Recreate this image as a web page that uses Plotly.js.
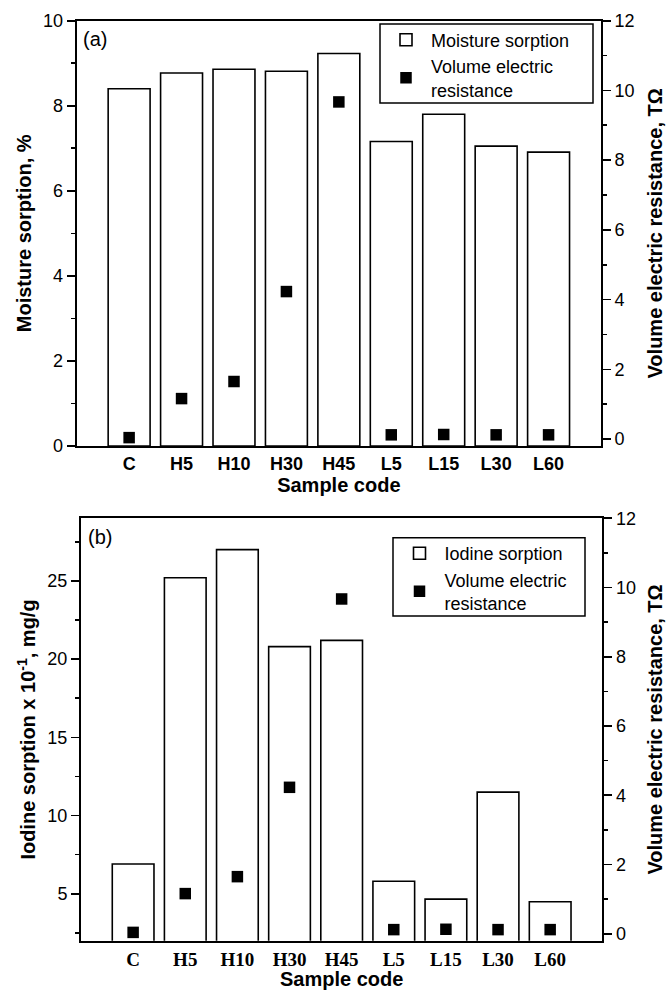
<!DOCTYPE html>
<html>
<head>
<meta charset="utf-8">
<script src="https://cdn.plot.ly/plotly-3.0.1.min.js"></script>
<style>html,body{margin:0;padding:0;background:#fff;}#chart{width:666px;height:990px;}</style>
</head>
<body>
<div id="chart"></div>
<script>
const categories = ['C','H5','H10','H30','H45','L5','L15','L30','L60'];
const moistureSorption = [8.40, 8.77, 8.86, 8.81, 9.23, 7.16, 7.80, 7.05, 6.91];
const iodineSorption = [6.9, 25.2, 27.0, 20.8, 21.2, 5.8, 4.66, 11.5, 4.49];
const volumeResistance = [0.04, 1.16, 1.65, 4.23, 9.67, 0.12, 0.13, 0.12, 0.12];

const W = 666, H = 990;
const sans = 'Liberation Sans, Arial, sans-serif';
const serif = 'Liberation Serif, Times New Roman, serif';

const barStyle = {color: '#ffffff', line: {color: '#000000', width: 1.6}};
const markStyle = {symbol: 'square', size: 11.5, color: '#000000'};

const traces = [
  {type: 'bar', x: categories, y: moistureSorption, name: 'Moisture sorption',
   xaxis: 'x', yaxis: 'y', width: 0.8, marker: barStyle, legend: 'legend'},
  {type: 'scatter', mode: 'markers', x: categories, y: volumeResistance,
   name: 'Volume electric<br>resistance', xaxis: 'x', yaxis: 'y2', marker: markStyle,
   legend: 'legend', cliponaxis: false},
  {type: 'bar', x: categories, y: iodineSorption, name: 'Iodine sorption',
   xaxis: 'x2', yaxis: 'y3', width: 0.8, marker: barStyle, legend: 'legend2'},
  {type: 'scatter', mode: 'markers', x: categories, y: volumeResistance,
   name: 'Volume electric<br>resistance', xaxis: 'x2', yaxis: 'y4', marker: markStyle,
   legend: 'legend2', cliponaxis: false}
];

const tickFont = {family: sans, size: 18, color: '#000'};
const titleFont = {family: sans, size: 20, color: '#000', weight: 'bold'};
function minorTicks(d) {
  return {ticks: 'outside', ticklen: 4, tickwidth: 1.6, tickcolor: '#000', dtick: d, showgrid: false};
}
function yAxis(extra) {
  return Object.assign({
    showline: true, linecolor: '#000', linewidth: 2, mirror: false,
    ticks: 'outside', ticklen: 8, tickwidth: 1.6, tickcolor: '#000',
    showgrid: false, zeroline: false, tickfont: tickFont
  }, extra);
}
function xAxis(extra) {
  return Object.assign({
    type: 'category', range: [-1, 9], showline: true, linecolor: '#000', linewidth: 2,
    mirror: true, ticks: '', showgrid: false, zeroline: false
  }, extra);
}

const legendStyle = {xanchor: 'left', yanchor: 'top', borderwidth: 0,
  bgcolor: 'rgba(0,0,0,0)', font: {family: sans, size: 18, color: '#000'}, itemwidth: 40, tracegroupgap: 0};

function frame(x0, x1, y0, y1) {
  return {type: 'rect', xref: 'paper', yref: 'paper', x0: x0/W, x1: x1/W, y0: 1 - y1/H, y1: 1 - y0/H,
    line: {color: '#000', width: 1.5}, fillcolor: 'rgba(0,0,0,0)', layer: 'above'};
}

const layout = {
  width: W, height: H,
  margin: {l: 0, r: 0, t: 0, b: 0},
  paper_bgcolor: '#fff', plot_bgcolor: '#fff',
  showlegend: true,
  barmode: 'overlay',
  xaxis: xAxis({domain: [76.7/W, 601/W], anchor: 'y',
    tickfont: {family: sans, size: 18, color: '#000', weight: 'bold'},
    title: {text: 'Sample code', font: titleFont, standoff: 2}}),
  yaxis: yAxis({domain: [1 - 446/H, 1 - 20.7/H], anchor: 'x', range: [0, 10], dtick: 2, tick0: 0,
    minor: minorTicks(1),
    title: {text: 'Moisture sorption, %', font: titleFont, standoff: 6}}),
  yaxis2: yAxis({overlaying: 'y', side: 'right', anchor: 'x', range: [-0.2, 12], dtick: 2, tick0: 0,
    minor: minorTicks(1),
    title: {text: 'Volume electric resistance, TΩ', font: titleFont, standoff: 14}}),
  xaxis2: xAxis({domain: [81/W, 602.3/W], anchor: 'y3',
    tickfont: {family: serif, size: 19, color: '#000', weight: 'bold'},
    title: {text: 'Sample code', font: titleFont, standoff: 7}}),
  yaxis3: yAxis({domain: [1 - 940.7/H, 1 - 518.3/H], anchor: 'x2', range: [2, 29], dtick: 5, tick0: 0,
    minor: minorTicks(2.5),
    title: {text: 'Iodine sorption x 10<sup>-1</sup>, mg/g', font: titleFont, standoff: 6}}),
  yaxis4: yAxis({overlaying: 'y3', side: 'right', anchor: 'x2', range: [-0.2, 12], dtick: 2, tick0: 0,
    minor: minorTicks(1),
    title: {text: 'Volume electric resistance, TΩ', font: titleFont, standoff: 14}}),
  legend: Object.assign({x: 381/W, y: 1 - 21.5/H}, legendStyle),
  legend2: Object.assign({x: 394.5/W, y: 1 - 535/H}, legendStyle),
  shapes: [frame(380, 593, 24, 103), frame(393, 585, 537.7, 616)],
  annotations: [
    {text: '(a)', xref: 'paper', yref: 'paper', x: 81/W, y: 1 - 39/H, xanchor: 'left', yanchor: 'middle',
     showarrow: false, font: {family: sans, size: 20, color: '#000'}},
    {text: '(b)', xref: 'paper', yref: 'paper', x: 86/W, y: 1 - 537/H, xanchor: 'left', yanchor: 'middle',
     showarrow: false, font: {family: sans, size: 20, color: '#000'}}
  ]
};

Plotly.newPlot('chart', traces, layout, {displayModeBar: false, staticPlot: true});
</script>
</body>
</html>
